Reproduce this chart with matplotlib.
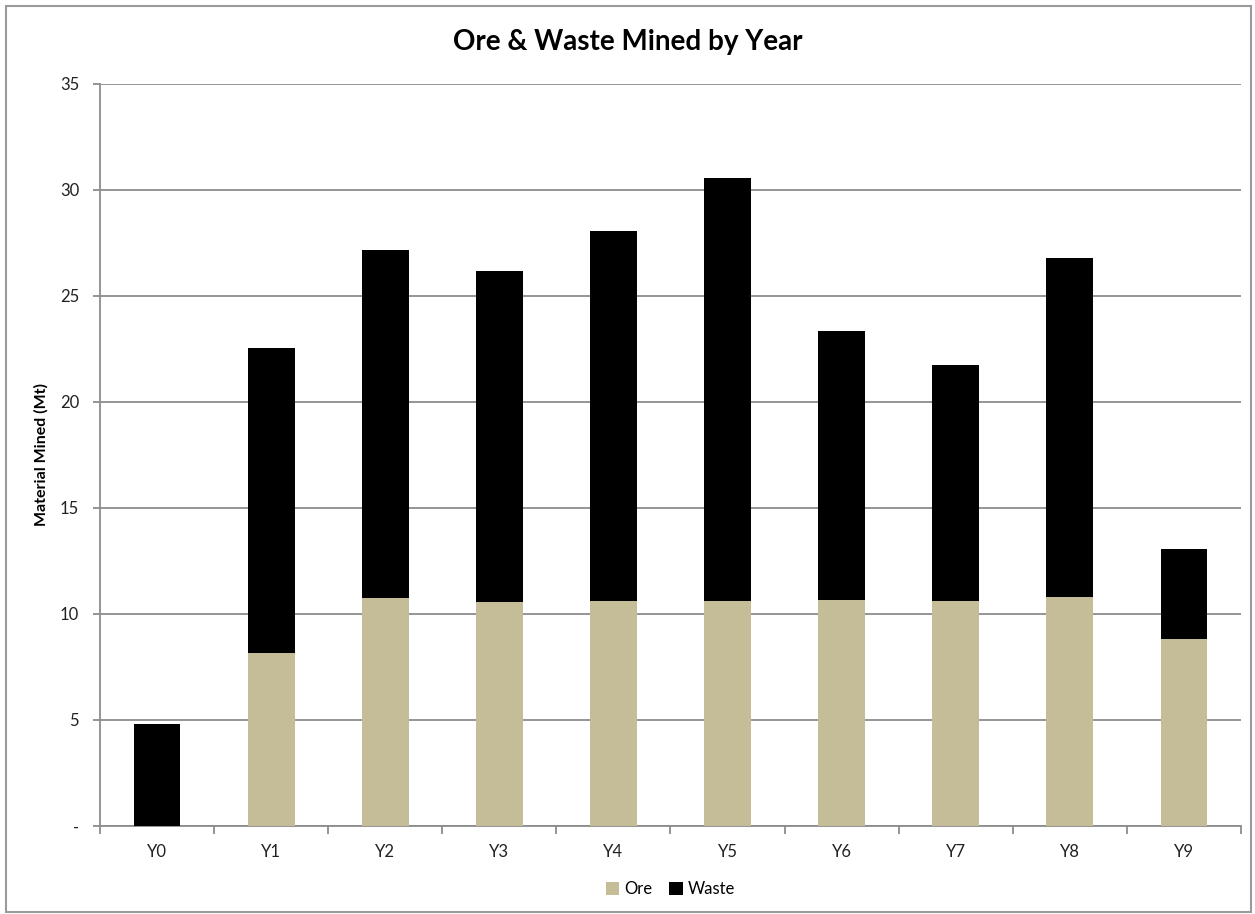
import numpy as np
import matplotlib.pyplot as plt
from matplotlib.patches import Rectangle

years = ["Y0", "Y1", "Y2", "Y3", "Y4", "Y5", "Y6", "Y7", "Y8", "Y9"]
ore = [0.0, 8.15, 10.75, 10.57, 10.6, 10.6, 10.65, 10.6, 10.8, 8.8]
waste = [4.8, 14.4, 16.42, 15.6, 17.47, 19.97, 12.7, 11.15, 15.98, 4.27]
yticks = [0, 5, 10, 15, 20, 25, 30, 35]
ytick_labels = ["-", "5", "10", "15", "20", "25", "30", "35"]

plt.rcParams["font.family"] = ["Lato", "DejaVu Sans"]

fig = plt.figure(figsize=(12.55, 9.14), dpi=100)
ax = fig.add_axes([0.0797, 0.0963, 0.9091, 0.8118])

x = np.arange(len(years))
ax.bar(x, ore, width=0.41, color="#c4bd97", label="Ore", zorder=3)
ax.bar(x, waste, width=0.41, bottom=ore, color="#000000", label="Waste", zorder=3)

ax.set_xlim(-0.5, len(years) - 0.5)
ax.set_ylim(0, 35)
ax.set_yticks(yticks)
ax.set_yticklabels(ytick_labels, fontsize=12, color="#222222")
ax.yaxis.grid(True, color="#8c8c8c", linewidth=1.3, zorder=0)

ax.set_xticks(x)
ax.set_xticklabels(years, fontsize=12, color="#222222")
ax.tick_params(axis="x", length=0, pad=13)
ax.set_xticks(np.arange(-0.5, len(years)), minor=True)
ax.tick_params(axis="x", which="minor", length=6, color="#8c8c8c", width=1.3)
ax.tick_params(axis="y", length=5, color="#8c8c8c", width=1.3, pad=10)

for side in ["top", "right"]:
    ax.spines[side].set_visible(False)
for side in ["left", "bottom"]:
    ax.spines[side].set_color("#8c8c8c")
    ax.spines[side].set_linewidth(1.3)

ax.set_ylabel("Material Mined (Mt)", fontsize=11.5, fontweight="bold", labelpad=8)
fig.suptitle("Ore & Waste Mined by Year", fontsize=20, fontweight="bold", y=0.968, x=0.5)

ax.legend(loc="center", bbox_to_anchor=(0.5, -0.085), ncol=2, frameon=False,
          fontsize=12, handlelength=0.8, handleheight=0.8, handletextpad=0.3,
          columnspacing=1.0)

fig.patches.append(Rectangle((0.005, 0.002), 0.992, 0.991, transform=fig.transFigure,
                             fill=False, edgecolor="#9a9a9a", linewidth=1.5))

fig.savefig("out.png", dpi=100)
